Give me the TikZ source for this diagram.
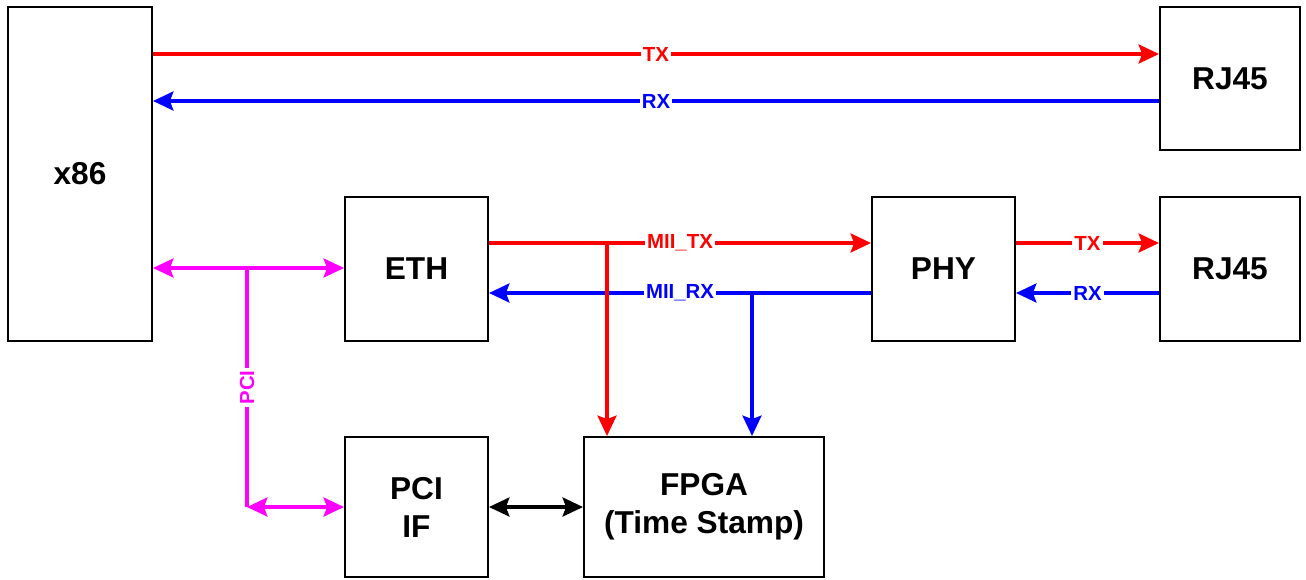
\documentclass[tikz,border=0pt]{standalone}
\usepackage{fontspec}
\setmainfont{Liberation Sans}
\usetikzlibrary{arrows.meta}
\definecolor{mag}{RGB}{255,0,255}
\definecolor{rd}{RGB}{255,0,0}
\definecolor{bl}{RGB}{0,0,255}
\tikzset{
  box/.style={draw=black, line width=1.4pt, fill=white, align=center, font=\fontsize{22.5}{27}\selectfont\bfseries, inner sep=0pt},
  tip/.tip={Stealth[length=14.5pt,width=13.5pt,inset=2.5pt]},
  conn/.style={line width=2.5pt, arrows={-tip}},
  both/.style={line width=2.5pt, arrows={tip-tip}},
  plain/.style={line width=2.5pt},
  lbl/.style={fill=white, inner sep=1.5pt, font=\fontsize{14.5}{16}\selectfont\bfseries},
  redc/.style={draw=rd, text=rd},
  bluec/.style={draw=bl, text=bl},
  magc/.style={draw=mag, text=mag},
}
\begin{document}
\begin{tikzpicture}[x=0.025cm, y=-0.025cm]
\useasboundingbox (0,0) rectangle (1306,579);
\node[box, minimum width=3.6cm, minimum height=8.35cm] (x86) at (80,174) {x86};
\node[box, minimum width=3.5cm, minimum height=3.575cm] (rj1) at (1230,78.5) {RJ45};
\node[box, minimum width=3.575cm, minimum height=3.6cm] (eth) at (416.5,269) {ETH};
\node[box, minimum width=3.575cm, minimum height=3.6cm] (phy) at (943.5,269) {PHY};
\node[box, minimum width=3.5cm, minimum height=3.6cm] (rj2) at (1230,269) {RJ45};
\node[box, minimum width=3.575cm, minimum height=3.5cm] (pciif) at (416.5,507) {PCI\\IF};
\node[box, minimum width=6cm, minimum height=3.5cm] (fpga) at (704,507) {FPGA\\(Time Stamp)};
% coordinates
\coordinate (ytx) at (0,54);
\coordinate (yrx) at (0,101);
\coordinate (ymtx) at (0,243);
\coordinate (ymrx) at (0,293);
\coordinate (ypci) at (0,268);
\coordinate (tapr) at (607,243);
\coordinate (tapb) at (752,293);
\coordinate (pj) at (247,268);
\coordinate (pb) at (247,507);
% top TX/RX
\draw[conn, redc] (x86.east |- ytx) -- node[lbl, pos=0.5]{TX} (rj1.west |- ytx);
\draw[conn, bluec] (rj1.west |- yrx) -- node[lbl, pos=0.5]{RX} (x86.east |- yrx);
% MII
\draw[conn, redc] (eth.east |- ymtx) -- node[lbl, pos=0.5]{MII\_TX} (phy.west |- ymtx);
\draw[conn, bluec] (phy.west |- ymrx) -- node[lbl, pos=0.5]{MII\_RX} (eth.east |- ymrx);
\draw[conn, redc] (tapr) -- (tapr |- fpga.north);
\draw[conn, bluec] (tapb) -- (tapb |- fpga.north);
% PHY - RJ45
\draw[conn, redc] (phy.east |- ymtx) -- node[lbl, pos=0.5]{TX} (rj2.west |- ymtx);
\draw[conn, bluec] (rj2.west |- ymrx) -- node[lbl, pos=0.5]{RX} (phy.east |- ymrx);
% PCI
\draw[both, magc] (x86.east |- ypci) -- (eth.west |- ypci);
\draw[plain, magc] (pj) -- node[lbl, rotate=90]{PCI} (pb);
\draw[both, magc] (pb) -- (pciif.west);
% PCI IF - FPGA
\draw[both, draw=black] (pciif.east) -- (fpga.west);
\end{tikzpicture}
\end{document}
